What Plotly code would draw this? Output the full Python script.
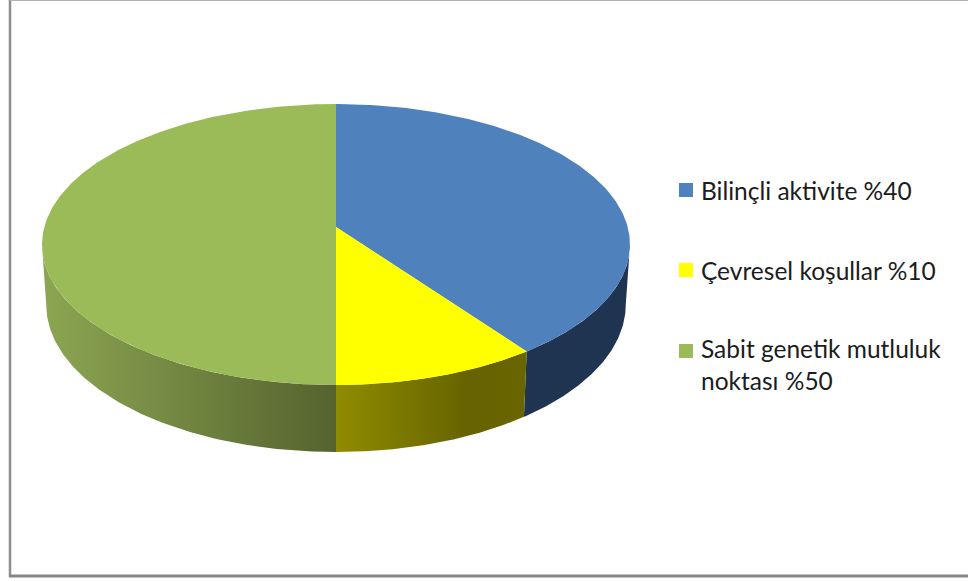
import numpy as np
import plotly.graph_objects as go

# Chart content
labels = ["Bilinçli aktivite %40", "Çevresel koşullar %10", "Sabit genetik mutluluk<br>noktası %50"]
shares = [40, 10, 50]
top_colors = ["#4F81BD", "#FFFF00", "#9BBB59"]
wall_scales = [
    [[0, "#1E3450"], [1, "#1E3450"]],
    [[0, "#8F8C00"], [0.7, "#666300"], [1, "#696500"]],
    [[0, "#8CA652"], [1, "#55632E"]],
]

# Canvas and perspective of the tilted disc, in pixels
WIDTH, HEIGHT = 968, 581
CX = 336
TILT = 0.1246
TOP_DISC = dict(w=291.7, h=138.3, y0=227)
BASE_DISC = dict(w=287.5, h=145.0, y0=286.4)
RIM_ANGLE = np.degrees(np.arccos(-TILT))  # where the outline turns, seen from the front


def project(deg, disc):
    """Map clockwise-from-top angles on a unit circle onto the tilted disc."""
    t = np.radians(deg)
    u, v = np.sin(t), np.cos(t)
    s = 1 / (1 + TILT * v)
    return CX + disc["w"] * u * s, disc["y0"] - disc["h"] * v * s


edges = np.cumsum([0] + shares) * 3.6
fig = go.Figure()

# Side walls go first, the top faces are painted over them
for i in range(len(shares)):
    a = max(edges[i], RIM_ANGLE)
    b = min(edges[i + 1], 360 - RIM_ANGLE)
    arc = np.linspace(a, b, 120)
    xt, yt = project(arc, TOP_DISC)
    xb, yb = project(arc[::-1], BASE_DISC)
    fig.add_trace(go.Scatter(
        x=np.r_[xt, xb], y=np.r_[yt, yb], mode="lines", line=dict(width=0),
        fill="toself",
        fillgradient=dict(type="horizontal", colorscale=wall_scales[i]),
        hoverinfo="skip", showlegend=False,
    ))

for i in range(len(shares)):
    arc = np.linspace(edges[i], edges[i + 1], 240)
    xt, yt = project(arc, TOP_DISC)
    ax, ay = project(np.array([0.0]), dict(TOP_DISC, w=0, h=0))
    fig.add_trace(go.Scatter(
        x=np.r_[ax, xt, ax], y=np.r_[ay, yt, ay], mode="lines", line=dict(width=0),
        fill="toself", fillcolor=top_colors[i],
        name=labels[i].replace("<br>", " "), hoverinfo="name", showlegend=False,
    ))

# Key on the right
KEY_X = 686
KEY_TEXT_X = 699
KEY_Y = [190, 270, 351]
fig.add_trace(go.Scatter(
    x=[KEY_X] * 3, y=KEY_Y, mode="markers",
    marker=dict(symbol="square", size=14, color=top_colors, line=dict(width=0)),
    hoverinfo="skip", showlegend=False,
))
annotations = [
    dict(x=KEY_TEXT_X, y=y, xref="x", yref="y", text=t, showarrow=False,
         xanchor="left", yanchor="middle" if "<br>" not in t else "top", align="left",
         yshift=0 if "<br>" not in t else 19,
         font=dict(family="Lato, Carlito, sans-serif", size=24.5, color="#1c1c1c"))
    for t, y in zip(labels, KEY_Y)
]

# Chart frame
frame = [
    dict(type="line", x0=10, x1=10, y0=0, y1=577, line=dict(color="#8E8E8E", width=2.5)),
    dict(type="line", x0=9, x1=WIDTH, y0=576, y1=576, line=dict(color="#858585", width=3)),
    dict(type="line", x0=10, x1=WIDTH, y0=0.5, y1=0.5, line=dict(color="#B4B4B4", width=1)),
]

fig.update_layout(
    width=WIDTH, height=HEIGHT, margin=dict(l=0, r=0, t=0, b=0),
    paper_bgcolor="white", plot_bgcolor="white",
    xaxis=dict(range=[0, WIDTH], visible=False, fixedrange=True),
    yaxis=dict(range=[HEIGHT, 0], visible=False, fixedrange=True),
    shapes=frame, annotations=annotations, showlegend=False,
)
fig.write_html("out.html", config=dict(displayModeBar=False))
